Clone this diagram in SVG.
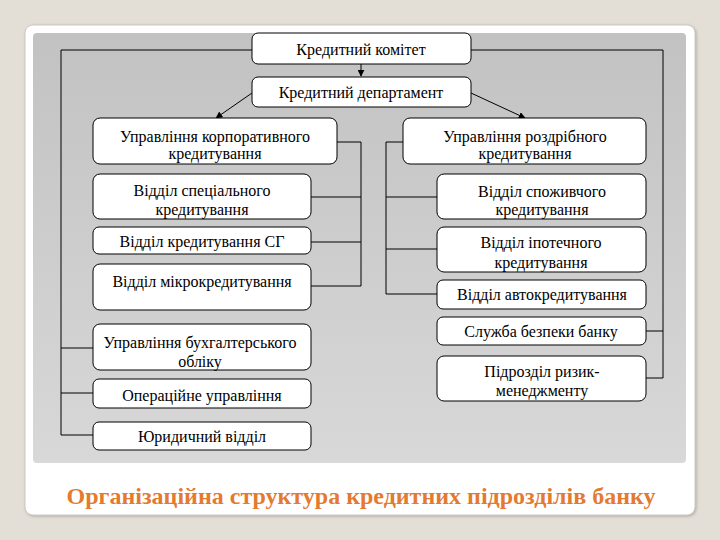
<svg xmlns="http://www.w3.org/2000/svg" width="720" height="540" viewBox="0 0 720 540">
<defs>
<linearGradient id="panel" x1="0" y1="0" x2="0" y2="1">
<stop offset="0" stop-color="#c2c2c2"/>
<stop offset="1" stop-color="#d8d8d8"/>
</linearGradient>
<marker id="arr" viewBox="0 0 10 10" refX="9" refY="5" markerWidth="7" markerHeight="7" orient="auto" markerUnits="userSpaceOnUse">
<path d="M0,0 L10,5 L0,10 z" fill="#000"/>
</marker>
<filter id="sh" x="-5%" y="-5%" width="110%" height="110%">
<feDropShadow dx="1" dy="1" stdDeviation="1.5" flood-color="#888" flood-opacity="0.6"/>
</filter>
</defs>
<style>
.box{fill:#fff;stroke:#000;stroke-width:1}
.t{font-family:"Liberation Serif","Times New Roman",serif;font-size:16px;fill:#000;text-anchor:middle}
.ln{fill:none;stroke:#000;stroke-width:1}
.title{font-family:"Liberation Serif","Times New Roman",serif;font-size:24px;font-weight:bold;fill:#e47a30;text-anchor:middle}
</style>
<rect x="0" y="0" width="720" height="540" fill="#e4dfd6"/>
<rect x="25" y="25" width="670" height="490" rx="8" fill="#fff" stroke="#cfcac2" stroke-width="1" filter="url(#sh)"/>
<rect x="33" y="33" width="653" height="430" rx="4" fill="url(#panel)"/>

<g id="connectors">
<polyline class="ln" points="252,50 61,50 61,435 93,435"/>
<line class="ln" x1="61" y1="348" x2="93" y2="348"/>
<line class="ln" x1="61" y1="393" x2="93" y2="393"/>
<polyline class="ln" points="471,50 663,50 663,378 646,378"/>
<line class="ln" x1="646" y1="331" x2="663" y2="331"/>
<line class="ln" x1="361" y1="64" x2="361" y2="76" marker-end="url(#arr)"/>
<line class="ln" x1="252" y1="93" x2="216" y2="118" marker-end="url(#arr)"/>
<line class="ln" x1="471" y1="93" x2="525" y2="118" marker-end="url(#arr)"/>
<polyline class="ln" points="337,142 361,142 361,286 311,286"/>
<line class="ln" x1="311" y1="197" x2="361" y2="197"/>
<line class="ln" x1="311" y1="242" x2="361" y2="242"/>
<polyline class="ln" points="403,142 386,142 386,294 437,294"/>
<line class="ln" x1="386" y1="197" x2="437" y2="197"/>
<line class="ln" x1="386" y1="249" x2="437" y2="249"/>
</g>

<g id="n1"><rect class="box" x="252" y="33" width="219" height="31" rx="6"/><text class="t" x="361" y="55">Кредитний комітет</text></g>
<g id="n2"><rect class="box" x="252" y="77" width="219" height="30" rx="6"/><text class="t" x="361" y="98">Кредитний департамент</text></g>
<g id="n3"><rect class="box" x="93" y="118" width="244" height="46" rx="7"/><text class="t" x="215" y="142">Управління корпоративного</text><text class="t" x="215" y="159">кредитування</text></g>
<g id="n4"><rect class="box" x="403" y="118" width="243" height="46" rx="7"/><text class="t" x="525" y="142">Управління роздрібного</text><text class="t" x="525" y="159">кредитування</text></g>
<g id="n5"><rect class="box" x="93" y="174" width="218" height="45" rx="7"/><text class="t" x="202" y="196">Відділ спеціального</text><text class="t" x="202" y="215">кредитування</text></g>
<g id="n6"><rect class="box" x="93" y="227" width="218" height="27" rx="6"/><text class="t" x="202" y="247">Відділ кредитування СГ</text></g>
<g id="n7"><rect class="box" x="93" y="264" width="218" height="46" rx="7"/><text class="t" x="202" y="287">Відділ мікрокредитування</text></g>
<g id="n8"><rect class="box" x="93" y="324" width="218" height="46" rx="7"/><text class="t" x="200" y="348">Управління бухгалтерського</text><text class="t" x="200" y="367">обліку</text></g>
<g id="n9"><rect class="box" x="93" y="379" width="218" height="29" rx="6"/><text class="t" x="202" y="401">Операційне управління</text></g>
<g id="n10"><rect class="box" x="93" y="422" width="218" height="28" rx="6"/><text class="t" x="202" y="442">Юридичний відділ</text></g>
<g id="n11"><rect class="box" x="437" y="174" width="209" height="45" rx="7"/><text class="t" x="542" y="197">Відділ споживчого</text><text class="t" x="542" y="215">кредитування</text></g>
<g id="n12"><rect class="box" x="437" y="227" width="209" height="45" rx="7"/><text class="t" x="541" y="248">Відділ іпотечного</text><text class="t" x="541" y="268">кредитування</text></g>
<g id="n13"><rect class="box" x="437" y="280" width="209" height="29" rx="6"/><text class="t" x="542" y="300">Відділ автокредитування</text></g>
<g id="n14"><rect class="box" x="437" y="317" width="209" height="28" rx="6"/><text class="t" x="541" y="337">Служба безпеки банку</text></g>
<g id="n15"><rect class="box" x="437" y="356" width="209" height="45" rx="7"/><text class="t" x="542" y="377">Підрозділ ризик-</text><text class="t" x="542" y="396">менеджменту</text></g>

<text class="title" x="361" y="504">Організаційна структура кредитних підрозділів банку</text>
</svg>
